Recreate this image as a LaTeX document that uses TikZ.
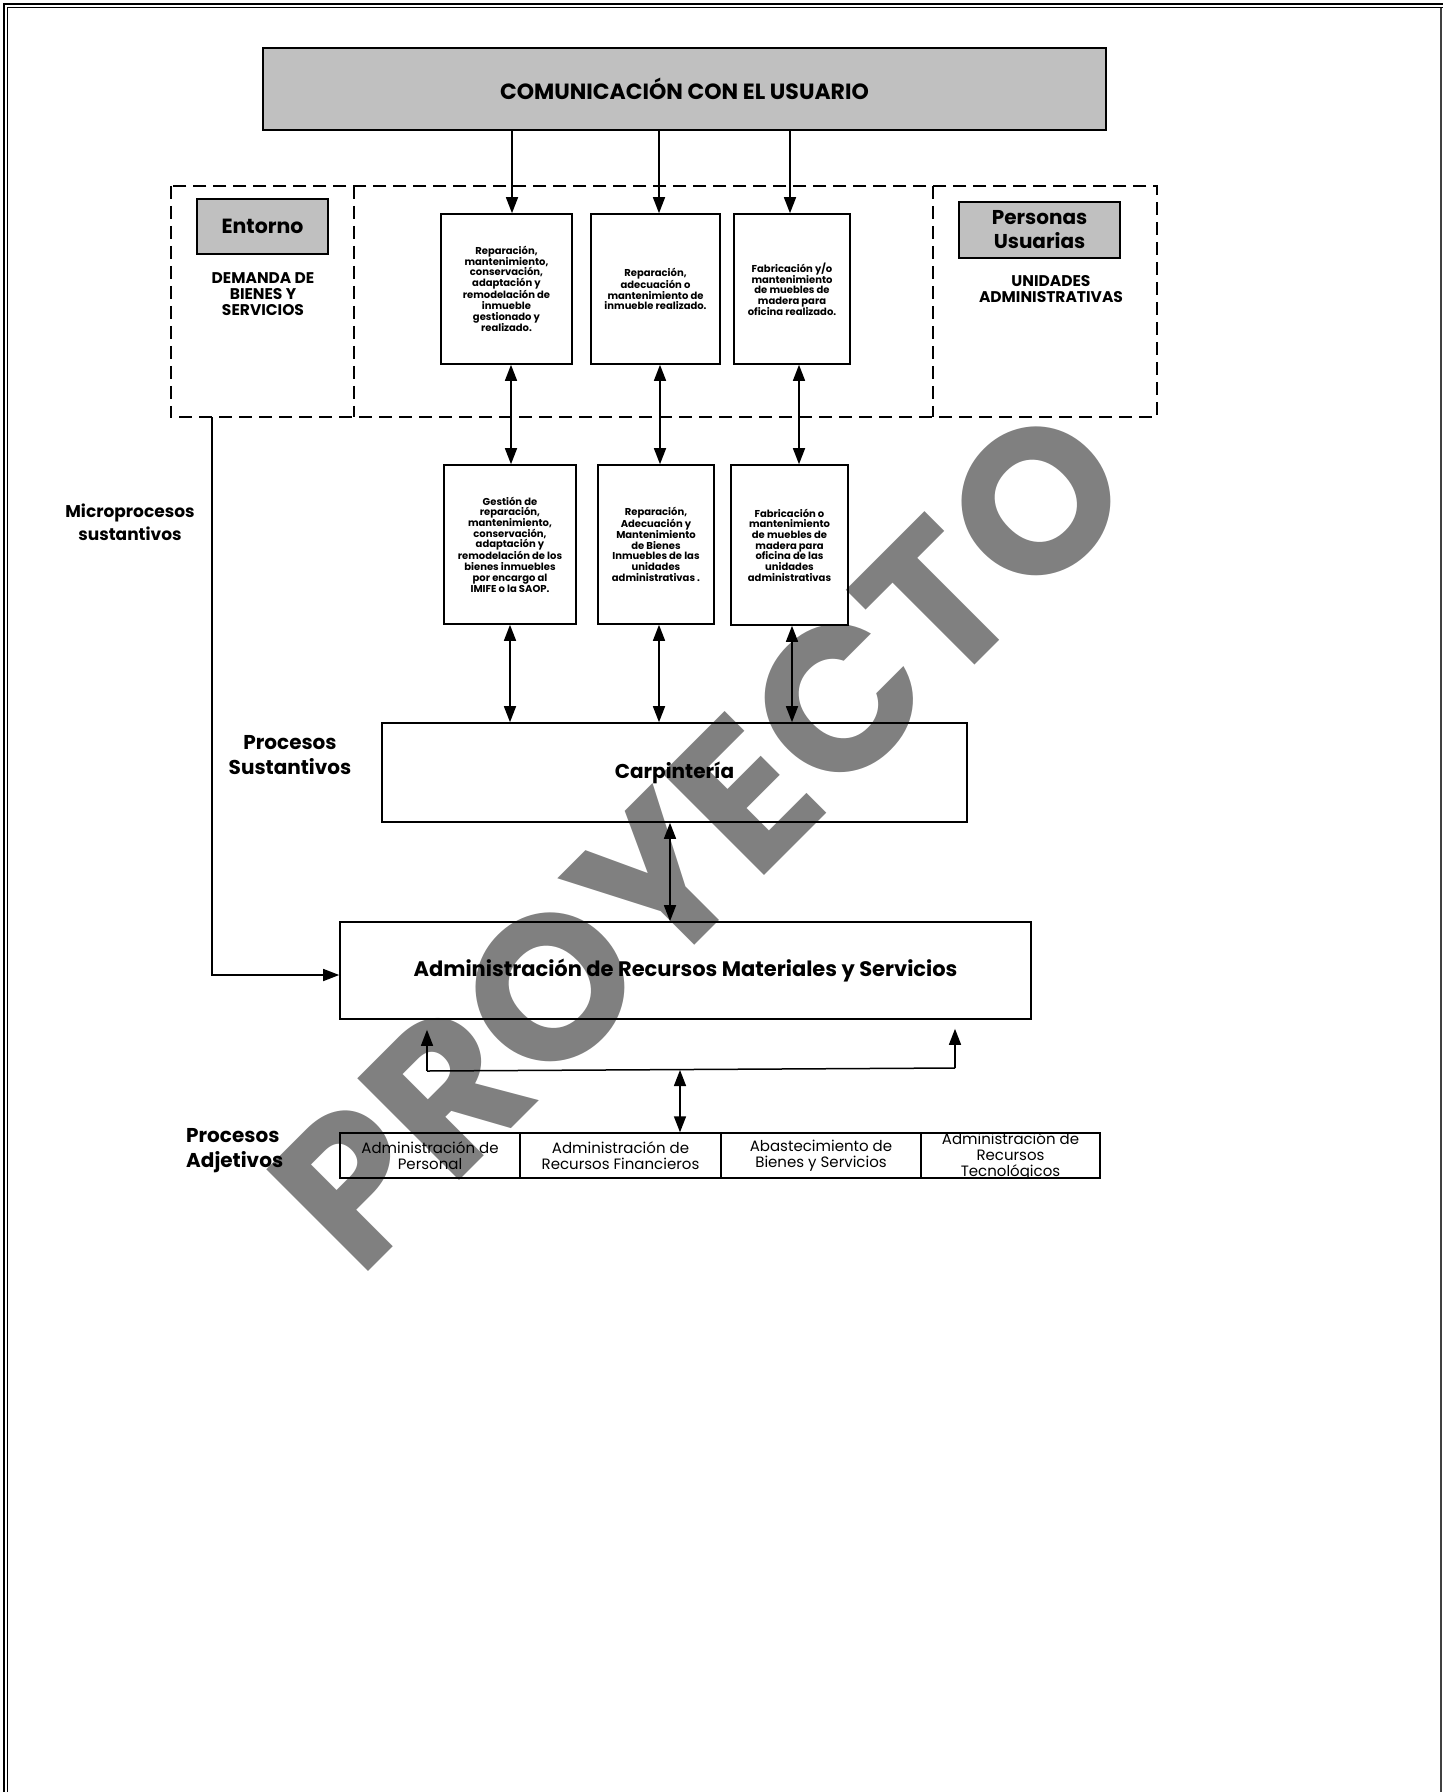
\documentclass[tikz,border=0pt]{standalone}
\usepackage{fontspec}
\setmainfont{Poppins}
\usetikzlibrary{arrows.meta,calc}
\definecolor{boxgray}{RGB}{192,192,192}
\definecolor{wmgray}{RGB}{128,128,128}
\begin{document}
\begin{tikzpicture}[x=1pt,y=-1pt,
  box/.style={draw, line width=1.6pt, inner sep=0pt, align=center},
  gbox/.style={box, fill=boxgray},
  tip/.tip={Triangle[length=16pt,width=12pt]},
  arr/.style={line width=1.5pt, -tip},
  dbl/.style={line width=1.5pt, tip-tip},
  dsh/.style={line width=1.6pt, dash pattern=on 13pt off 7pt},
  small/.style={font=\fontsize{10}{10.7}\selectfont\bfseries},
  lbl/.style={align=center, inner sep=0pt},
  bot/.style={box, line width=1.4pt, font=\fontsize{15}{16}\selectfont}
]
\useasboundingbox (0,0) rectangle (1443,1792);

% watermark (behind)
\node[rotate=45, text=wmgray, inner sep=0pt, font=\fontsize{205}{205}\selectfont\bfseries] (wm) at (701,837) {PROYECTO};

% page frame
\draw[line width=2.5pt] (4,1792) -- (4,4) -- (1443,4);
\draw[line width=1.1pt] (7.5,1792) -- (7.5,7.5) -- (1443,7.5);
\draw[line width=1.2pt, black!75] (1441,7.5) -- (1441,1792);

% top box
\node[gbox, minimum width=843, minimum height=82, font=\fontsize{22}{24}\selectfont\bfseries] (top) at (684.5,89) {COMUNICACIÓN CON EL USUARIO};

% dashed frame regions
\node[minimum width=183, minimum height=231, inner sep=0pt] (entf) at (262.5,301.5) {};
\node[minimum width=224, minimum height=231, inner sep=0pt] (perf) at (1045,301.5) {};
\draw[dsh] (entf.north west) rectangle (perf.south east);
\draw[dsh] (entf.north east) -- (entf.south east);
\draw[dsh] (perf.north west) -- (perf.south west);

\node[gbox, minimum width=131, minimum height=55, font=\fontsize{20.5}{22}\selectfont\bfseries] (ent) at (262.5,226.5) {Entorno};
\node[lbl, font=\fontsize{15.5}{16}\selectfont\bfseries] (dem) at (263,294) {DEMANDA DE\\BIENES Y\\SERVICIOS};
\node[gbox, minimum width=161, minimum height=56, font=\fontsize{20}{24}\selectfont\bfseries] (per) at (1039.5,230) {Personas\\Usuarias};
\node[lbl, font=\fontsize{15.5}{16}\selectfont\bfseries] (uni) at (1051,289) {UNIDADES\\ADMINISTRATIVAS};

% top row boxes
\node[box, small, minimum width=131, minimum height=150] (b1) at (506.5,289) {Reparación,\\mantenimiento,\\conservación,\\adaptación y\\remodelación de\\inmueble\\gestionado y\\realizado.};
\node[box, small, minimum width=129, minimum height=150] (b2) at (655.5,289) {Reparación,\\adecuación o\\mantenimiento de\\inmueble realizado.};
\node[box, small, minimum width=116, minimum height=150] (b3) at (792,289) {Fabricación y/o\\mantenimiento\\de muebles de\\madera para\\oficina realizado.};

% middle row boxes
\node[box, small, minimum width=132, minimum height=159] (b4) at (510,544.5) {Gestión de\\reparación,\\mantenimiento,\\conservación,\\adaptación y\\remodelación de los\\bienes inmuebles\\por encargo al\\IMIFE o la SAOP.};
\node[box, small, minimum width=116, minimum height=159] (b5) at (656,544.5) {Reparación,\\Adecuación y\\Mantenimiento\\de Bienes\\Inmuebles de las\\unidades\\administrativas .};
\node[box, small, minimum width=117, minimum height=160] (b6) at (789.5,545) {Fabricación o\\mantenimiento\\de muebles de\\madera para\\oficina de las\\unidades\\administrativas};

% main process boxes
\node[box, minimum width=585, minimum height=99, font=\fontsize{20}{22}\selectfont\bfseries] (carp) at (674.5,772.5) {Carpintería};
\node[box, minimum width=691, minimum height=97, font=\fontsize{21}{22}\selectfont\bfseries] (adm) at (685.5,970.5) {Administración de Recursos Materiales y Servicios};

% bottom row
\node[bot, minimum width=180, minimum height=45] (p1) at (430,1155.5) {Administración de\\Personal};
\node[bot, minimum width=201, minimum height=45] (p2) at (620.5,1155.5) {Administración de\\Recursos Financieros};
\node[bot, minimum width=200, minimum height=45] (p3) at (821,1155.5) {Abastecimiento de\\Bienes y Servicios};
\node[bot, minimum width=179, minimum height=45] (p4) at (1010.5,1155.5) {};
\begin{scope}
\clip (p4.north west) rectangle (p4.south east);
\node[lbl, font=\fontsize{15}{16}\selectfont] (p4t) at (1010.5,1157) {Administración de\\Recursos\\Tecnológicos};
\end{scope}

% side labels
\node[lbl, font=\fontsize{17}{23}\selectfont\bfseries] (micro) at (130,522) {Microprocesos\\sustantivos};
\node[lbl, font=\fontsize{20}{25}\selectfont\bfseries] (psus) at (290,755) {Procesos\\Sustantivos};
\node[lbl, align=left, anchor=west, font=\fontsize{20}{25}\selectfont\bfseries] (padj) at (186,1151) {Procesos\\Adjetivos};

% arrows from top box
\draw[arr] ([xshift=5.5]b1.north |- top.south) -- ([xshift=5.5]b1.north);
\draw[arr] ([xshift=3.5]b2.north |- top.south) -- ([xshift=3.5]b2.north);
\draw[arr] ([xshift=-2]b3.north |- top.south) -- ([xshift=-2]b3.north);

% top row <-> middle row
\draw[dbl] ([xshift=1]b4.north |- b1.south) -- ([xshift=1]b4.north);
\draw[dbl] ([xshift=4]b5.north |- b2.south) -- ([xshift=4]b5.north);
\draw[dbl] ([xshift=9.5]b6.north |- b3.south) -- ([xshift=9.5]b6.north);

% middle row <-> Carpinteria
\draw[dbl] (b4.south) -- (b4.south |- carp.north);
\draw[dbl] ([xshift=3]b5.south) -- ([xshift=3]b5.south |- carp.north);
\draw[dbl] ([xshift=2.5]b6.south) -- ([xshift=2.5]b6.south |- carp.north);

% Carpinteria <-> Administracion
\draw[dbl] ([xshift=-4.5]carp.south) -- ([xshift=-4.5]carp.south |- adm.north);

% microprocesos line
\draw[arr] ([xshift=-50.5]entf.south) |- ([yshift=-4.5]adm.west);

% bottom bracket
\coordinate (brL) at (427,1071);
\coordinate (brR) at (955,1068);
\coordinate (brM) at (680,1070);
\draw[line width=1.5pt] (brL) -- (brR);
\draw[arr, shorten >=10pt] (brL) -- (brL |- adm.south);
\draw[arr, shorten >=9pt] (brR) -- (brR |- adm.south);
\draw[dbl] (brM) -- (brM |- p2.north);
\end{tikzpicture}
\end{document}
